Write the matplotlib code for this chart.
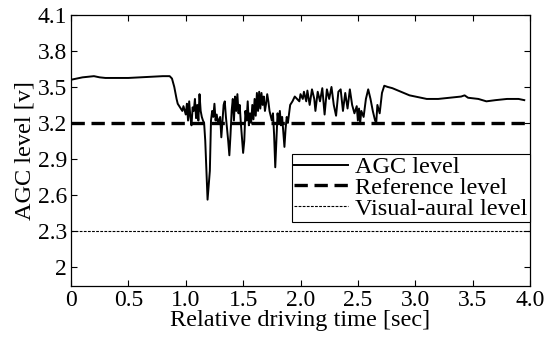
import numpy as np
import matplotlib
matplotlib.use('Agg')
import matplotlib.pyplot as plt

# AGC level (time [sec], level [v])
agc_t = [0.00, 0.05, 0.10, 0.15, 0.20, 0.25, 0.30, 0.40, 0.50, 0.60, 0.70, 0.80, 0.86, 0.88, 0.90, 0.92,
         0.93, 0.95, 0.97, 0.98, 1.00, 1.01, 1.02, 1.03, 1.04, 1.05, 1.06, 1.07, 1.08, 1.09, 1.10,
         1.11, 1.12, 1.13, 1.14, 1.15, 1.16, 1.17, 1.19, 1.21, 1.22, 1.23, 1.24, 1.25, 1.26, 1.27,
         1.28, 1.30, 1.31, 1.32, 1.33, 1.34, 1.35, 1.37, 1.38, 1.39, 1.40, 1.41, 1.42, 1.43, 1.44,
         1.45, 1.46, 1.47, 1.48, 1.50, 1.51, 1.52, 1.53, 1.54, 1.55, 1.56, 1.57, 1.58, 1.59, 1.60,
         1.61, 1.62, 1.63, 1.64, 1.65, 1.66, 1.67, 1.68, 1.69, 1.70, 1.71, 1.72, 1.73, 1.75, 1.76,
         1.77, 1.78, 1.79, 1.80, 1.81, 1.82, 1.83, 1.84, 1.85, 1.86, 1.87, 1.88, 1.89, 1.91, 1.93,
         1.95, 1.97, 1.99, 2.00, 2.02, 2.03, 2.05, 2.06, 2.08, 2.10, 2.12, 2.13, 2.15, 2.17, 2.19,
         2.21, 2.23, 2.25, 2.27, 2.29, 2.31, 2.33, 2.35, 2.37, 2.39, 2.41, 2.43, 2.45, 2.47, 2.49,
         2.50, 2.51, 2.52, 2.53, 2.55, 2.57, 2.59, 2.61, 2.63, 2.65, 2.66, 2.67, 2.69, 2.71, 2.73,
         2.76, 2.80, 2.85, 2.90, 2.95, 3.00, 3.05, 3.10, 3.20, 3.30, 3.40, 3.43, 3.46, 3.55, 3.62,
         3.70, 3.80, 3.90, 3.95]
agc_v = [3.56, 3.57, 3.58, 3.585, 3.59, 3.58, 3.575, 3.575, 3.575, 3.58, 3.585, 3.59, 3.59, 3.57, 3.50, 3.40,
         3.36, 3.33, 3.30, 3.34, 3.27, 3.36, 3.22, 3.38, 3.25, 3.18, 3.33, 3.30, 3.40, 3.24, 3.35,
         3.22, 3.44, 3.30, 3.25, 3.22, 3.20, 3.05, 2.56, 2.80, 3.22, 3.30, 3.25, 3.36, 3.22, 3.27,
         3.20, 3.25, 3.08, 3.22, 3.35, 3.38, 3.25, 3.05, 2.93, 3.10, 3.30, 3.40, 3.22, 3.42, 3.30,
         3.44, 3.28, 3.35, 3.20, 2.95, 3.05, 3.30, 3.22, 3.38, 3.18, 3.28, 3.20, 3.35, 3.23, 3.40,
         3.26, 3.45, 3.30, 3.46, 3.32, 3.45, 3.35, 3.42, 3.30, 3.36, 3.44, 3.38, 3.30, 3.22, 3.28,
         3.10, 2.83, 3.05, 3.28, 3.20, 3.30, 3.18, 3.25, 3.12, 3.00, 3.15, 3.25, 3.20, 3.35, 3.38,
         3.42, 3.40, 3.38, 3.44, 3.40, 3.46, 3.38, 3.47, 3.35, 3.48, 3.40, 3.30, 3.46, 3.38, 3.49,
         3.27, 3.48, 3.40, 3.50, 3.35, 3.26, 3.46, 3.48, 3.30, 3.45, 3.32, 3.48, 3.35, 3.28, 3.34,
         3.22, 3.32, 3.20, 3.30, 3.25, 3.40, 3.48, 3.40, 3.30, 3.22, 3.20, 3.35, 3.28, 3.45, 3.51,
         3.50, 3.49, 3.47, 3.45, 3.43, 3.42, 3.41, 3.40, 3.40, 3.41, 3.42, 3.43, 3.41, 3.40, 3.38,
         3.39, 3.40, 3.40, 3.39]

reference_level = 3.2
visual_aural_level = 2.3

x_ticks = [0, 0.5, 1.0, 1.5, 2.0, 2.5, 3.0, 3.5, 4.0]
x_labels = ['0', '0.5', '1.0', '1.5', '2.0', '2.5', '3.0', '3.5', '4.0']
y_ticks = [2, 2.3, 2.6, 2.9, 3.2, 3.5, 3.8, 4.1]
y_labels = ['2', '2.3', '2.6', '2.9', '3.2', '3.5', '3.8', '4.1']

plt.rcParams['font.family'] = ['Liberation Serif', 'DejaVu Serif']
plt.rcParams['font.size'] = 17

fig = plt.figure(figsize=(5.51, 3.38), dpi=100)
ax = fig.add_axes([71 / 551, 1 - 286 / 338, (530 - 71) / 551, (286 - 15) / 338])

ax.plot(agc_t, agc_v, color='black', linewidth=1.4, label='AGC level')
ax.axhline(reference_level, color='black', linewidth=2.4, dashes=(4, 2), label='Reference level')
ax.axhline(visual_aural_level, color='black', linewidth=0.8, dashes=(2.5, 1.2), label='Visual-aural level')

ax.set_xlim(0, 4.0)
ax.set_ylim(1.84, 4.1)
ax.set_xticks(x_ticks)
ax.set_xticklabels(x_labels)
ax.set_yticks(y_ticks)
ax.set_yticklabels(y_labels)
ax.tick_params(direction='in', top=True, right=True, length=4, width=0.8, labelsize=17, pad=3)
for s in ax.spines.values():
    s.set_linewidth(0.9)

ax.set_xlabel('Relative driving time [sec]', fontsize=17.5, labelpad=-1)
ax.set_ylabel('AGC level [v]', fontsize=17.5, labelpad=1)

leg = ax.legend(loc='lower right', bbox_to_anchor=(1.0, 0.236), borderaxespad=0,
                fancybox=False, framealpha=1, edgecolor='black', fontsize=17.5,
                handlelength=2.2, handletextpad=0.3, labelspacing=-0.05, borderpad=0.1)
leg.get_frame().set_linewidth(0.8)

fig.savefig('out.png', dpi=100)
